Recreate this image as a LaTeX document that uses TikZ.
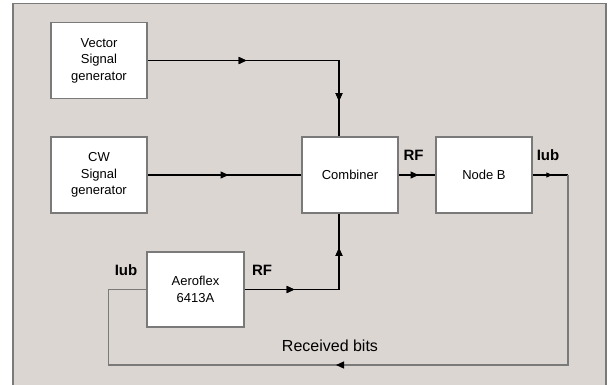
\documentclass[tikz,border=0pt]{standalone}
\usepackage{fontspec}
\setmainfont{Liberation Sans}
\usetikzlibrary{arrows.meta,decorations.markings}
\definecolor{bgcol}{HTML}{DCD6D3}
\definecolor{linegray}{HTML}{7A7A7A}
\tikzset{
  box/.style={draw=linegray, line width=1.1pt, fill=white, minimum width=96pt, minimum height=76pt,
    align=center, inner sep=0pt, font=\fontsize{13}{16.5}\selectfont},
  lbl/.style={font=\fontsize{15}{18}\selectfont\bfseries, inner sep=0pt},
  wire/.style={draw=black, line width=1.2pt},
  loopwire/.style={draw=linegray, line width=1.2pt},
  tipat/.style={postaction={decorate}, decoration={markings,
    mark=at position #1 with {\arrow[black]{Triangle[length=8pt,width=7pt]}}}},
  smalltipat/.style={postaction={decorate}, decoration={markings,
    mark=at position #1 with {\arrow[black]{Triangle[length=6pt,width=5pt]}}}}
}
\begin{document}
\begin{tikzpicture}[x=1pt,y=-1pt]
\useasboundingbox (0,0) rectangle (610,384);
\clip (0,0) rectangle (610,384);
\fill[white] (0,0) rectangle (610,384);
\draw[fill=bgcol, draw=linegray, line width=1.1pt] (13,3.5) rectangle (606,400);

\node[box] (V) at (99,60.5) {Vector\\Signal\\generator};
\node[box] (W) at (99,175) {CW\\Signal\\generator};
\node[box] (C) at (350,175) {Combiner};
\node[box] (N) at (484,175) {Node B};
\node[box, minimum width=97pt, minimum height=75pt] (A) at (195.5,289.5) {Aeroflex\\6413A};

\coordinate (cx) at (339,0);
\coordinate (lr) at (568,365);
\coordinate (ll) at (108.3,365);

\path[wire, tipat=99pt, tipat=232pt] (V.east) -- (V.east -| cx) -- (C.north -| cx);
\path[wire, tipat=81pt] (W.east) -- (C.west);
\path[wire, tipat=50pt, tipat=136pt] (A.east) -- (A.east -| cx) -- (C.south -| cx);
\path[wire, tipat=20pt] (C.east) -- (N.west);
\path[wire, smalltipat=19.7pt] (N.east) -- (N.east -| lr);
\path[loopwire, tipat=422pt] (N.east -| lr) -- (lr) -- (ll) -- (A.west -| ll) -- (A.west);

\node[lbl] (rf1) at (413.5,155) {RF};
\node[lbl] (iub1) at (548,155) {Iub};
\node[lbl] (iub2) at (126,270) {Iub};
\node[lbl] (rf2) at (262,270) {RF};
\node[font=\fontsize{16}{19}\selectfont, inner sep=0pt] (rb) at (330,346) {Received bits};
\end{tikzpicture}
\end{document}
